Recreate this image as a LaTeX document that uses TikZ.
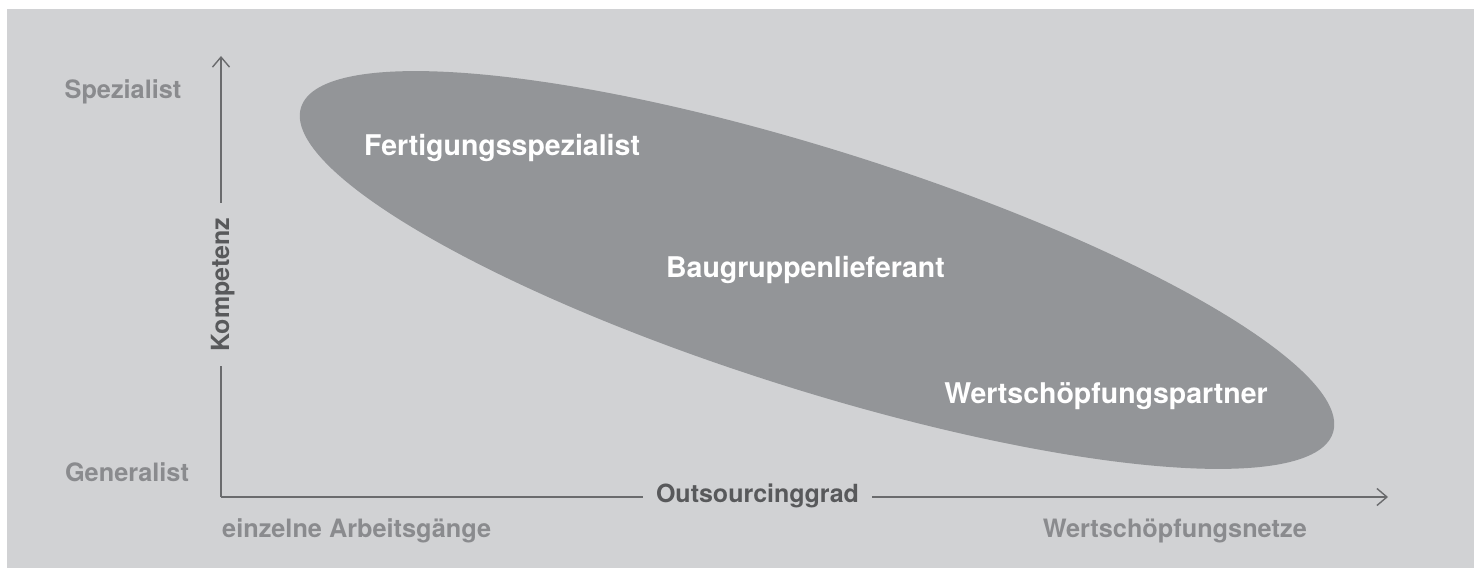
\documentclass[tikz,border=0pt]{standalone}
\usepackage{fontspec}
\setmainfont{TeX Gyre Heros}
\usetikzlibrary{arrows.meta}
\definecolor{bg}{HTML}{D1D2D4}
\definecolor{ell}{HTML}{939598}
\definecolor{lbl}{HTML}{8A8B8E}
\definecolor{axis}{HTML}{6A6B6D}
\definecolor{axtxt}{HTML}{58595B}
\tikzset{
  greylbl/.style={inner sep=0pt, text=lbl, font=\bfseries\fontsize{25.3}{30}\selectfont},
  whitelbl/.style={inner sep=0pt, text=white, font=\bfseries\fontsize{28.5}{34}\selectfont},
  axislbl/.style={inner ysep=1pt, fill=bg, text=axtxt, font=\bfseries\fontsize{25}{30}\selectfont},
  axisline/.style={draw=axis, line width=1.4pt, -{Straight Barb[length=10pt,width=17pt]}}
}
\begin{document}
\begin{tikzpicture}[x=1pt,y=-1pt]
\useasboundingbox (0,0) rectangle (1477,569);
\fill[white] (0,0) rectangle (1477,569);
\fill[bg] (7,9) rectangle (1474,568);
% ellipse
\fill[ell, rotate around={-17.5:(817,270)}] (817,270) ellipse [x radius=541, y radius=120];
% axes
\coordinate (origin) at (221,497);
\coordinate (ytip) at (221,56);
\coordinate (xtip) at (1388,497);
\draw[axisline] (origin) -- (ytip);
\draw[axisline] (origin) -- (xtip);
\node[axislbl, rotate=90, anchor=base, inner xsep=15pt] (komp) at (229,284.5) {Kompetenz};
\node[axislbl, anchor=base, inner xsep=13.5pt] (outs) at (757.5,502) {Outsourcinggrad};
% grey labels
\node[greylbl, anchor=base] (spez) at (123,99) {Spezialist};
\node[greylbl, anchor=base] (gen) at (127,481) {Generalist};
\node[greylbl, anchor=base west] (einz) at (222,537) {einzelne Arbeitsgänge};
\node[greylbl, anchor=base east] (netz) at (1307,537) {Wertschöpfungsnetze};
% white labels
\node[whitelbl, anchor=base] (fert) at (502,156) {Fertigungsspezialist};
\node[whitelbl, anchor=base] (baug) at (805.5,277) {Baugruppenlieferant};
\node[whitelbl, anchor=base] (wert) at (1106,403) {Wertschöpfungspartner};
\end{tikzpicture}
\end{document}
